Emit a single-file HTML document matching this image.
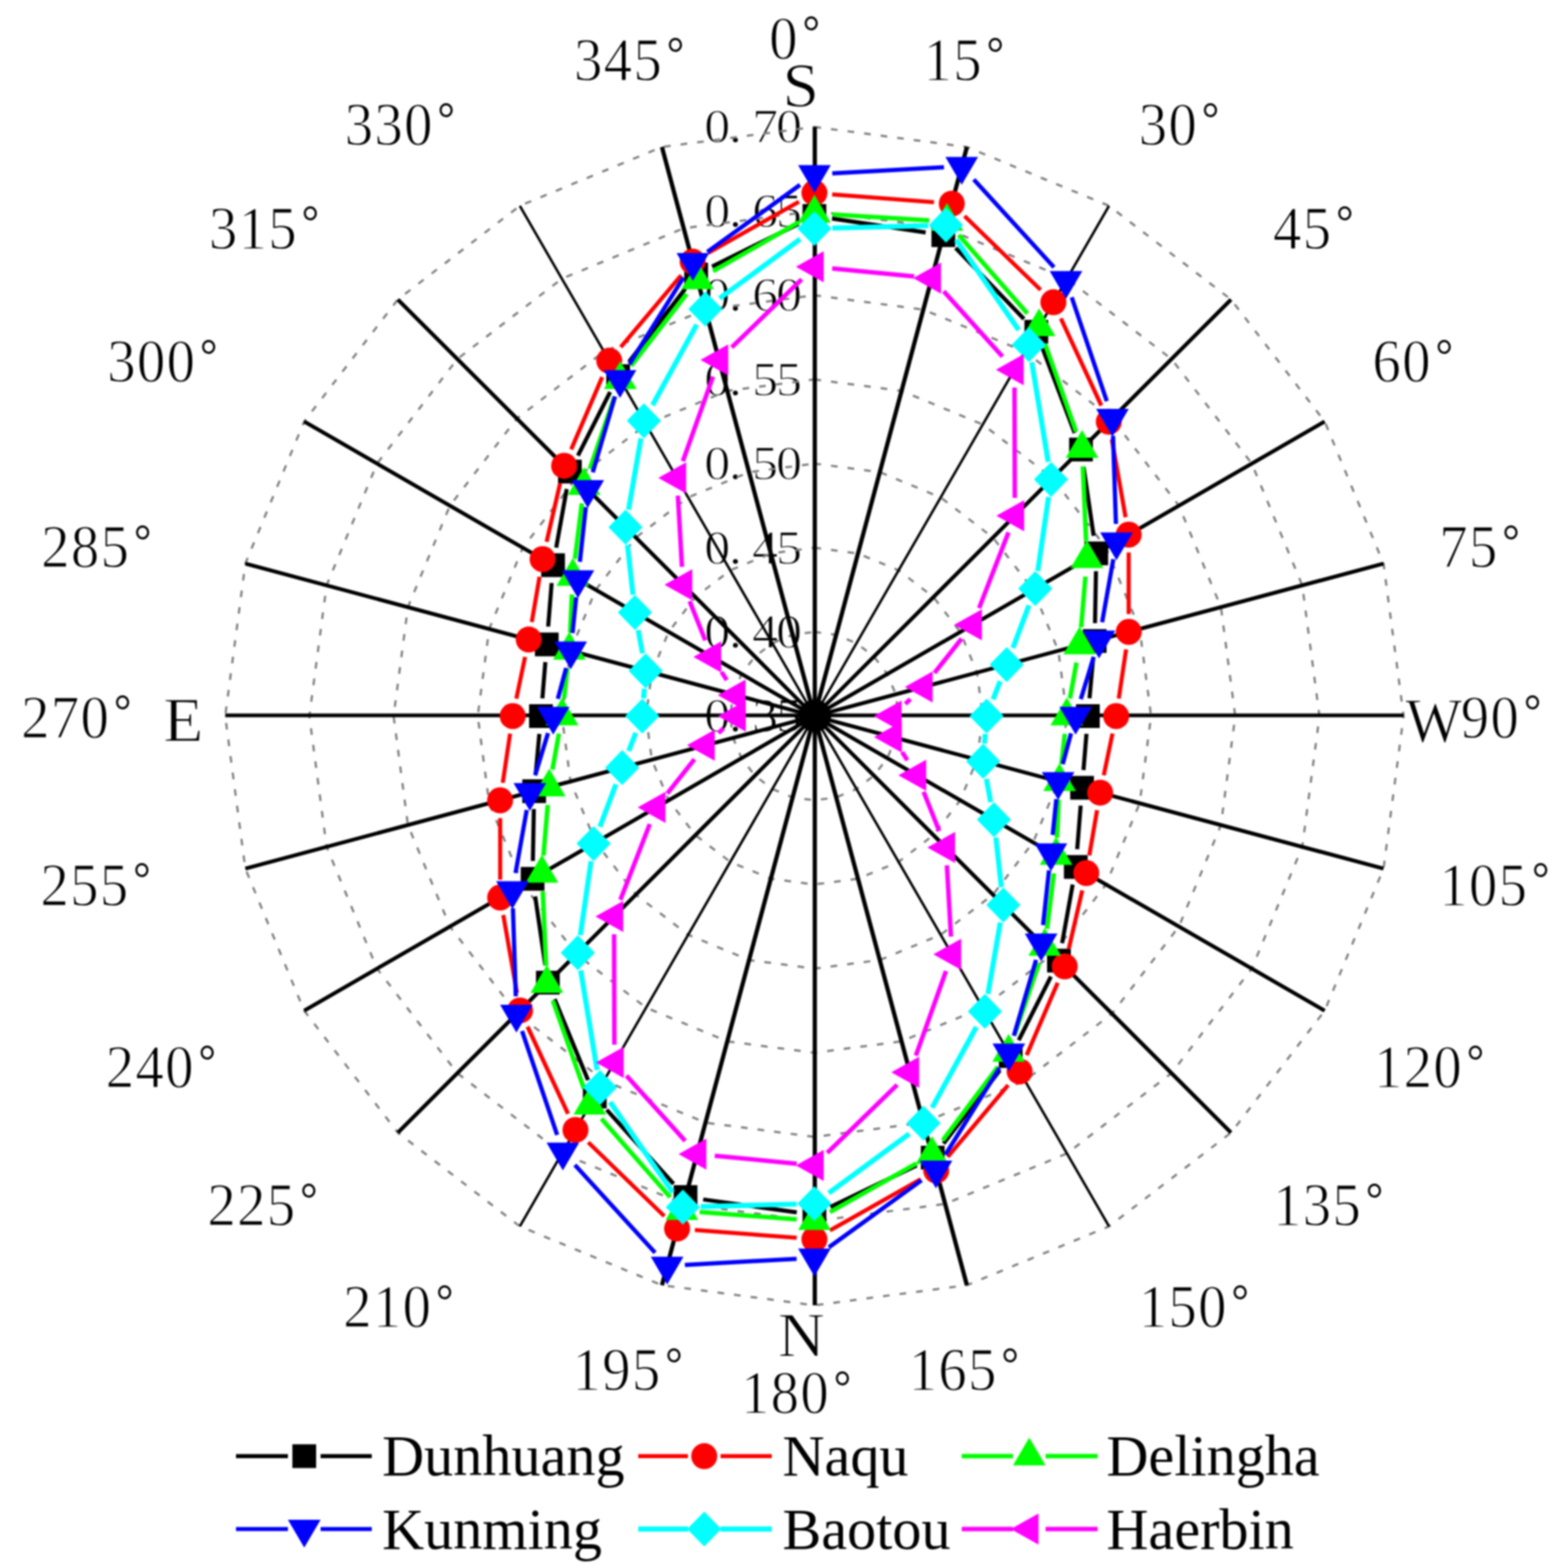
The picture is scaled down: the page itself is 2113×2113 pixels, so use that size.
<!DOCTYPE html>
<html lang="en"><head><meta charset="utf-8"><title>Polar chart</title>
<style>html,body{margin:0;padding:0;background:#fff}svg{display:block}</style></head>
<body>
<svg width="2113" height="2113" viewBox="0 0 2113 2113">
<defs><filter id="soft" color-interpolation-filters="sRGB" filterUnits="userSpaceOnUse" x="0" y="0" width="2113" height="2113"><feGaussianBlur stdDeviation="1.0"/></filter></defs>
<rect width="2113" height="2113" fill="#fff"/>
<g filter="url(#soft)">
<rect width="2113" height="2113" fill="#fff"/>
<g font-family="'Liberation Serif', 'Noto Serif CJK SC', serif" font-size="65" fill="#000" stroke="#fff" stroke-width="1.3">
<text transform="scale(1.08,1)" x="878.7 909.5 938.5 968.4" y="986.5">0.35</text>
<text transform="scale(1.08,1)" x="878.7 909.5 938.5 968.4" y="873.1">0.40</text>
<text transform="scale(1.08,1)" x="878.7 909.5 938.5 968.4" y="759.6">0.45</text>
<text transform="scale(1.08,1)" x="878.7 909.5 938.5 968.4" y="646.2">0.50</text>
<text transform="scale(1.08,1)" x="878.7 909.5 938.5 968.4" y="532.8">0.55</text>
<text transform="scale(1.08,1)" x="878.7 909.5 938.5 968.4" y="419.4">0.60</text>
<text transform="scale(1.08,1)" x="878.7 909.5 938.5 968.4" y="305.9">0.65</text>
<text transform="scale(1.08,1)" x="878.7 909.5 938.5 968.4" y="192.5">0.70</text>
</g>
<g fill="none" stroke="#808080" stroke-width="3.0" stroke-dasharray="9 13.5">
<polygon points="1097.5,851.6 1126.9,855.4 1154.2,866.8 1177.7,884.8 1195.7,908.3 1207.1,935.6 1210.9,965.0 1207.1,994.4 1195.7,1021.7 1177.7,1045.2 1154.2,1063.2 1126.9,1074.6 1097.5,1078.4 1068.1,1074.6 1040.8,1063.2 1017.3,1045.2 999.3,1021.7 987.9,994.4 984.1,965.0 987.9,935.6 999.3,908.3 1017.3,884.8 1040.8,866.8 1068.1,855.4"/>
<polygon points="1097.5,738.1 1156.2,745.9 1210.9,768.5 1257.9,804.6 1294.0,851.6 1316.6,906.3 1324.4,965.0 1316.6,1023.7 1294.0,1078.4 1257.9,1125.4 1210.9,1161.5 1156.2,1184.1 1097.5,1191.9 1038.8,1184.1 984.1,1161.5 937.1,1125.4 901.0,1078.4 878.4,1023.7 870.6,965.0 878.4,906.3 901.0,851.6 937.1,804.6 984.1,768.5 1038.8,745.9"/>
<polygon points="1097.5,624.7 1185.6,636.3 1267.6,670.3 1338.1,724.4 1392.2,794.9 1426.2,876.9 1437.8,965.0 1426.2,1053.1 1392.2,1135.1 1338.1,1205.6 1267.6,1259.7 1185.6,1293.7 1097.5,1305.3 1009.4,1293.7 927.4,1259.7 856.9,1205.6 802.8,1135.1 768.8,1053.1 757.2,965.0 768.8,876.9 802.8,794.9 856.9,724.4 927.4,670.3 1009.4,636.3"/>
<polygon points="1097.5,511.3 1214.9,526.7 1324.4,572.1 1418.3,644.2 1490.4,738.1 1535.8,847.6 1551.2,965.0 1535.8,1082.4 1490.4,1191.9 1418.3,1285.8 1324.4,1357.9 1214.9,1403.3 1097.5,1418.7 980.1,1403.3 870.6,1357.9 776.7,1285.8 704.6,1191.9 659.2,1082.4 643.8,965.0 659.2,847.6 704.6,738.1 776.7,644.2 870.6,572.1 980.1,526.7"/>
<polygon points="1097.5,397.9 1244.3,417.2 1381.1,473.8 1498.5,564.0 1588.7,681.4 1645.3,818.2 1664.6,965.0 1645.3,1111.8 1588.7,1248.6 1498.5,1366.0 1381.1,1456.2 1244.3,1512.8 1097.5,1532.1 950.7,1512.8 813.9,1456.2 696.5,1366.0 606.3,1248.6 549.7,1111.8 530.4,965.0 549.7,818.2 606.3,681.4 696.5,564.0 813.9,473.8 950.7,417.2"/>
<polygon points="1097.5,284.4 1273.6,307.6 1437.8,375.6 1578.7,483.8 1686.9,624.7 1754.9,788.9 1778.1,965.0 1754.9,1141.1 1686.9,1305.3 1578.7,1446.2 1437.8,1554.4 1273.6,1622.4 1097.5,1645.6 921.4,1622.4 757.2,1554.4 616.3,1446.2 508.1,1305.3 440.1,1141.1 416.9,965.0 440.1,788.9 508.1,624.7 616.3,483.8 757.2,375.6 921.4,307.6"/>
<polygon points="1097.5,171.0 1303.0,198.1 1494.5,277.4 1658.9,403.6 1785.1,568.0 1864.4,759.5 1891.5,965.0 1864.4,1170.5 1785.1,1362.0 1658.9,1526.4 1494.5,1652.6 1303.0,1731.9 1097.5,1759.0 892.0,1731.9 700.5,1652.6 536.1,1526.4 409.9,1362.0 330.6,1170.5 303.5,965.0 330.6,759.5 409.9,568.0 536.1,403.6 700.5,277.4 892.0,198.1"/>
</g>
<g stroke="#000" fill="none">
<line x1="1098.0" y1="965.0" x2="1098.0" y2="171.0" stroke-width="5.7"/>
<line x1="1097.5" y1="965.0" x2="1303.0" y2="198.1" stroke-width="5.7"/>
<line x1="1097.5" y1="965.0" x2="1494.5" y2="277.4" stroke-width="3.4"/>
<line x1="1097.5" y1="965.0" x2="1658.9" y2="403.6" stroke-width="5.2"/>
<line x1="1097.5" y1="965.0" x2="1785.1" y2="568.0" stroke-width="5.2"/>
<line x1="1097.5" y1="965.0" x2="1864.4" y2="759.5" stroke-width="5.2"/>
<line x1="1097.5" y1="964.0" x2="1891.5" y2="964.0" stroke-width="5.2"/>
<line x1="1097.5" y1="965.0" x2="1864.4" y2="1170.5" stroke-width="5.2"/>
<line x1="1097.5" y1="965.0" x2="1785.1" y2="1362.0" stroke-width="5.2"/>
<line x1="1097.5" y1="965.0" x2="1658.9" y2="1526.4" stroke-width="5.2"/>
<line x1="1097.5" y1="965.0" x2="1494.5" y2="1652.6" stroke-width="3.4"/>
<line x1="1097.5" y1="965.0" x2="1303.0" y2="1731.9" stroke-width="5.7"/>
<line x1="1098.0" y1="965.0" x2="1098.0" y2="1759.0" stroke-width="5.7"/>
<line x1="1097.5" y1="965.0" x2="892.0" y2="1731.9" stroke-width="5.7"/>
<line x1="1097.5" y1="965.0" x2="700.5" y2="1652.6" stroke-width="3.4"/>
<line x1="1097.5" y1="965.0" x2="536.1" y2="1526.4" stroke-width="5.2"/>
<line x1="1097.5" y1="965.0" x2="409.9" y2="1362.0" stroke-width="5.2"/>
<line x1="1097.5" y1="965.0" x2="330.6" y2="1170.5" stroke-width="5.2"/>
<line x1="1097.5" y1="964.0" x2="303.5" y2="964.0" stroke-width="5.2"/>
<line x1="1097.5" y1="965.0" x2="330.6" y2="759.5" stroke-width="5.2"/>
<line x1="1097.5" y1="965.0" x2="409.9" y2="568.0" stroke-width="5.2"/>
<line x1="1097.5" y1="965.0" x2="536.1" y2="403.6" stroke-width="5.2"/>
<line x1="1097.5" y1="965.0" x2="700.5" y2="277.4" stroke-width="3.4"/>
<line x1="1097.5" y1="965.0" x2="892.0" y2="198.1" stroke-width="5.7"/>
</g>
<circle cx="1098.0" cy="964.5" r="22" fill="#000"/>
<g stroke="#000000" stroke-width="5.5" fill="none">
<line x1="1121.2" y1="294.5" x2="1247.4" y2="313.3"/>
<line x1="1287.8" y1="334.2" x2="1379.9" y2="429.8"/>
<line x1="1405.0" y1="469.6" x2="1448.2" y2="583.4"/>
<line x1="1460.2" y1="629.5" x2="1473.8" y2="722.0"/>
<line x1="1476.9" y1="769.7" x2="1475.6" y2="839.8"/>
<line x1="1473.0" y1="887.7" x2="1468.2" y2="941.1"/>
<line x1="1464.1" y1="988.9" x2="1460.1" y2="1037.7"/>
<line x1="1456.3" y1="1085.6" x2="1451.6" y2="1144.4"/>
<line x1="1445.5" y1="1192.0" x2="1431.3" y2="1270.9"/>
<line x1="1416.2" y1="1315.9" x2="1372.8" y2="1401.7"/>
<line x1="1347.4" y1="1442.2" x2="1271.5" y2="1541.0"/>
<line x1="1235.3" y1="1570.4" x2="1119.1" y2="1626.6"/>
<line x1="1073.7" y1="1633.7" x2="947.6" y2="1616.4"/>
<line x1="907.7" y1="1595.3" x2="817.6" y2="1495.5"/>
<line x1="792.4" y1="1455.5" x2="747.4" y2="1346.4"/>
<line x1="734.8" y1="1300.5" x2="721.2" y2="1208.0"/>
<line x1="718.1" y1="1160.3" x2="719.4" y2="1090.2"/>
<line x1="722.0" y1="1042.3" x2="726.8" y2="988.9"/>
<line x1="730.9" y1="941.1" x2="734.9" y2="892.3"/>
<line x1="738.7" y1="844.4" x2="743.4" y2="785.6"/>
<line x1="749.5" y1="738.0" x2="763.7" y2="659.1"/>
<line x1="778.8" y1="614.1" x2="822.2" y2="528.3"/>
<line x1="847.6" y1="487.8" x2="923.5" y2="389.0"/>
<line x1="959.6" y1="359.3" x2="1076.0" y2="301.7"/>
</g>
<g>
<rect x="1081.5" y="275.0" width="32" height="32" fill="#000000"/>
<rect x="1255.2" y="300.9" width="32" height="32" fill="#000000"/>
<rect x="1380.5" y="431.1" width="32" height="32" fill="#000000"/>
<rect x="1440.7" y="589.8" width="32" height="32" fill="#000000"/>
<rect x="1461.3" y="729.7" width="32" height="32" fill="#000000"/>
<rect x="1459.2" y="847.8" width="32" height="32" fill="#000000"/>
<rect x="1450.0" y="949.0" width="32" height="32" fill="#000000"/>
<rect x="1442.2" y="1045.6" width="32" height="32" fill="#000000"/>
<rect x="1433.7" y="1152.3" width="32" height="32" fill="#000000"/>
<rect x="1411.0" y="1278.5" width="32" height="32" fill="#000000"/>
<rect x="1346.0" y="1407.1" width="32" height="32" fill="#000000"/>
<rect x="1240.9" y="1544.0" width="32" height="32" fill="#000000"/>
<rect x="1081.5" y="1621.0" width="32" height="32" fill="#000000"/>
<rect x="907.8" y="1597.1" width="32" height="32" fill="#000000"/>
<rect x="785.5" y="1461.7" width="32" height="32" fill="#000000"/>
<rect x="722.3" y="1308.2" width="32" height="32" fill="#000000"/>
<rect x="701.7" y="1168.3" width="32" height="32" fill="#000000"/>
<rect x="703.8" y="1050.2" width="32" height="32" fill="#000000"/>
<rect x="713.0" y="949.0" width="32" height="32" fill="#000000"/>
<rect x="720.8" y="852.4" width="32" height="32" fill="#000000"/>
<rect x="729.3" y="745.6" width="32" height="32" fill="#000000"/>
<rect x="752.0" y="619.5" width="32" height="32" fill="#000000"/>
<rect x="817.0" y="490.9" width="32" height="32" fill="#000000"/>
<rect x="922.1" y="354.0" width="32" height="32" fill="#000000"/>
</g>
<g stroke="#ff0000" stroke-width="5.5" fill="none">
<line x1="1121.4" y1="261.9" x2="1258.6" y2="272.5"/>
<line x1="1299.8" y1="291.1" x2="1402.3" y2="390.6"/>
<line x1="1429.6" y1="429.1" x2="1484.1" y2="546.5"/>
<line x1="1498.3" y1="591.9" x2="1516.8" y2="696.9"/>
<line x1="1521.0" y1="744.5" x2="1521.0" y2="827.5"/>
<line x1="1517.5" y1="875.2" x2="1507.6" y2="941.3"/>
<line x1="1499.2" y1="988.5" x2="1487.4" y2="1044.7"/>
<line x1="1478.4" y1="1091.8" x2="1467.9" y2="1152.8"/>
<line x1="1458.4" y1="1199.9" x2="1440.2" y2="1278.9"/>
<line x1="1425.3" y1="1324.3" x2="1383.5" y2="1421.9"/>
<line x1="1358.5" y1="1462.3" x2="1277.1" y2="1559.0"/>
<line x1="1240.7" y1="1589.2" x2="1118.4" y2="1658.2"/>
<line x1="1073.6" y1="1668.1" x2="936.4" y2="1657.5"/>
<line x1="895.2" y1="1638.9" x2="792.7" y2="1539.4"/>
<line x1="765.4" y1="1500.9" x2="710.9" y2="1383.5"/>
<line x1="696.7" y1="1338.1" x2="678.2" y2="1233.1"/>
<line x1="674.0" y1="1185.5" x2="674.0" y2="1102.5"/>
<line x1="677.5" y1="1054.8" x2="687.4" y2="988.7"/>
<line x1="695.8" y1="941.5" x2="707.6" y2="885.3"/>
<line x1="716.6" y1="838.2" x2="727.1" y2="777.2"/>
<line x1="736.6" y1="730.1" x2="754.8" y2="651.1"/>
<line x1="769.7" y1="605.7" x2="811.5" y2="508.1"/>
<line x1="836.5" y1="467.7" x2="917.9" y2="371.0"/>
<line x1="954.3" y1="340.8" x2="1076.6" y2="271.8"/>
</g>
<g>
<circle cx="1097.5" cy="260.0" r="17.5" fill="#ff0000"/>
<circle cx="1282.6" cy="274.4" r="17.5" fill="#ff0000"/>
<circle cx="1419.5" cy="407.3" r="17.5" fill="#ff0000"/>
<circle cx="1494.2" cy="568.3" r="17.5" fill="#ff0000"/>
<circle cx="1521.0" cy="720.5" r="17.5" fill="#ff0000"/>
<circle cx="1521.1" cy="851.5" r="17.5" fill="#ff0000"/>
<circle cx="1504.1" cy="965.0" r="17.5" fill="#ff0000"/>
<circle cx="1482.5" cy="1068.2" r="17.5" fill="#ff0000"/>
<circle cx="1463.8" cy="1176.5" r="17.5" fill="#ff0000"/>
<circle cx="1434.8" cy="1302.3" r="17.5" fill="#ff0000"/>
<circle cx="1374.0" cy="1443.9" r="17.5" fill="#ff0000"/>
<circle cx="1261.6" cy="1577.4" r="17.5" fill="#ff0000"/>
<circle cx="1097.5" cy="1670.0" r="17.5" fill="#ff0000"/>
<circle cx="912.4" cy="1655.6" r="17.5" fill="#ff0000"/>
<circle cx="775.5" cy="1522.7" r="17.5" fill="#ff0000"/>
<circle cx="700.8" cy="1361.7" r="17.5" fill="#ff0000"/>
<circle cx="674.0" cy="1209.5" r="17.5" fill="#ff0000"/>
<circle cx="673.9" cy="1078.5" r="17.5" fill="#ff0000"/>
<circle cx="690.9" cy="965.0" r="17.5" fill="#ff0000"/>
<circle cx="712.5" cy="861.8" r="17.5" fill="#ff0000"/>
<circle cx="731.2" cy="753.5" r="17.5" fill="#ff0000"/>
<circle cx="760.2" cy="627.7" r="17.5" fill="#ff0000"/>
<circle cx="821.0" cy="486.1" r="17.5" fill="#ff0000"/>
<circle cx="933.4" cy="352.6" r="17.5" fill="#ff0000"/>
</g>
<g stroke="#00ff00" stroke-width="6.0" fill="none">
<line x1="1121.5" y1="289.0" x2="1252.1" y2="297.0"/>
<line x1="1291.9" y1="316.6" x2="1384.5" y2="422.5"/>
<line x1="1408.2" y1="463.2" x2="1450.1" y2="581.7"/>
<line x1="1459.2" y1="628.4" x2="1463.6" y2="729.0"/>
<line x1="1462.7" y1="776.9" x2="1456.9" y2="845.3"/>
<line x1="1450.6" y1="892.9" x2="1441.8" y2="941.4"/>
<line x1="1434.9" y1="988.9" x2="1430.4" y2="1029.7"/>
<line x1="1426.7" y1="1077.5" x2="1424.3" y2="1129.0"/>
<line x1="1420.2" y1="1176.8" x2="1410.9" y2="1251.6"/>
<line x1="1400.2" y1="1298.1" x2="1366.9" y2="1395.6"/>
<line x1="1344.8" y1="1437.5" x2="1270.3" y2="1536.9"/>
<line x1="1235.0" y1="1567.9" x2="1118.4" y2="1633.3"/>
<line x1="1073.6" y1="1643.2" x2="942.8" y2="1633.3"/>
<line x1="903.1" y1="1613.4" x2="810.5" y2="1507.5"/>
<line x1="786.8" y1="1466.8" x2="744.9" y2="1348.3"/>
<line x1="735.8" y1="1301.6" x2="731.4" y2="1201.0"/>
<line x1="732.3" y1="1153.1" x2="738.1" y2="1084.7"/>
<line x1="744.4" y1="1037.1" x2="753.2" y2="988.6"/>
<line x1="760.1" y1="941.1" x2="764.6" y2="900.3"/>
<line x1="768.3" y1="852.5" x2="770.7" y2="801.0"/>
<line x1="774.8" y1="753.2" x2="784.1" y2="678.4"/>
<line x1="794.8" y1="631.9" x2="828.1" y2="534.4"/>
<line x1="850.5" y1="492.8" x2="925.3" y2="396.2"/>
<line x1="960.9" y1="365.4" x2="1076.6" y2="299.4"/>
</g>
<g>
<polygon points="1097.5,262.5 1119.5,300.0 1075.5,300.0" fill="#00ff00"/>
<polygon points="1276.1,273.5 1298.1,311.0 1254.1,311.0" fill="#00ff00"/>
<polygon points="1400.2,415.6 1422.2,453.1 1378.2,453.1" fill="#00ff00"/>
<polygon points="1458.1,579.4 1480.1,616.9 1436.1,616.9" fill="#00ff00"/>
<polygon points="1464.7,728.0 1486.7,765.5 1442.7,765.5" fill="#00ff00"/>
<polygon points="1454.9,844.2 1476.9,881.7 1432.9,881.7" fill="#00ff00"/>
<polygon points="1437.5,940.0 1459.5,977.5 1415.5,977.5" fill="#00ff00"/>
<polygon points="1427.8,1028.5 1449.8,1066.0 1405.8,1066.0" fill="#00ff00"/>
<polygon points="1423.1,1128.0 1445.1,1165.5 1401.1,1165.5" fill="#00ff00"/>
<polygon points="1407.9,1250.4 1429.9,1287.9 1385.9,1287.9" fill="#00ff00"/>
<polygon points="1359.2,1393.3 1381.2,1430.8 1337.2,1430.8" fill="#00ff00"/>
<polygon points="1255.9,1531.1 1277.9,1568.6 1233.9,1568.6" fill="#00ff00"/>
<polygon points="1097.5,1620.0 1119.5,1657.5 1075.5,1657.5" fill="#00ff00"/>
<polygon points="918.9,1606.5 940.9,1644.0 896.9,1644.0" fill="#00ff00"/>
<polygon points="794.8,1464.4 816.8,1501.9 772.8,1501.9" fill="#00ff00"/>
<polygon points="736.9,1300.6 758.9,1338.1 714.9,1338.1" fill="#00ff00"/>
<polygon points="730.3,1152.0 752.3,1189.5 708.3,1189.5" fill="#00ff00"/>
<polygon points="740.1,1035.8 762.1,1073.3 718.1,1073.3" fill="#00ff00"/>
<polygon points="757.5,940.0 779.5,977.5 735.5,977.5" fill="#00ff00"/>
<polygon points="767.2,851.5 789.2,889.0 745.2,889.0" fill="#00ff00"/>
<polygon points="771.9,752.0 793.9,789.5 749.9,789.5" fill="#00ff00"/>
<polygon points="787.1,629.6 809.1,667.1 765.1,667.1" fill="#00ff00"/>
<polygon points="835.8,486.7 857.8,524.2 813.8,524.2" fill="#00ff00"/>
<polygon points="940.0,352.2 962.0,389.7 918.0,389.7" fill="#00ff00"/>
</g>
<g stroke="#0000ff" stroke-width="5.7" fill="none">
<line x1="1121.5" y1="233.7" x2="1272.1" y2="225.4"/>
<line x1="1312.2" y1="241.8" x2="1420.3" y2="360.1"/>
<line x1="1444.2" y1="400.6" x2="1491.5" y2="540.6"/>
<line x1="1499.9" y1="587.4" x2="1503.8" y2="706.0"/>
<line x1="1500.3" y1="753.6" x2="1485.2" y2="838.6"/>
<line x1="1473.9" y1="885.2" x2="1456.5" y2="942.1"/>
<line x1="1443.3" y1="988.2" x2="1432.1" y2="1029.8"/>
<line x1="1423.5" y1="1076.9" x2="1418.6" y2="1125.1"/>
<line x1="1413.6" y1="1172.9" x2="1405.6" y2="1246.6"/>
<line x1="1396.2" y1="1293.5" x2="1366.2" y2="1395.8"/>
<line x1="1346.8" y1="1439.2" x2="1274.0" y2="1556.1"/>
<line x1="1241.9" y1="1590.5" x2="1116.9" y2="1680.9"/>
<line x1="1073.5" y1="1696.3" x2="922.9" y2="1704.6"/>
<line x1="882.8" y1="1688.2" x2="774.7" y2="1569.9"/>
<line x1="750.8" y1="1529.4" x2="703.5" y2="1389.4"/>
<line x1="695.1" y1="1342.6" x2="691.2" y2="1224.0"/>
<line x1="694.7" y1="1176.4" x2="709.8" y2="1091.4"/>
<line x1="721.1" y1="1044.8" x2="738.5" y2="987.9"/>
<line x1="751.7" y1="941.8" x2="762.9" y2="900.2"/>
<line x1="771.5" y1="853.1" x2="776.4" y2="804.9"/>
<line x1="781.4" y1="757.1" x2="789.4" y2="683.4"/>
<line x1="798.8" y1="636.5" x2="828.8" y2="534.2"/>
<line x1="848.2" y1="490.8" x2="921.0" y2="373.9"/>
<line x1="953.1" y1="339.5" x2="1078.1" y2="249.1"/>
</g>
<g>
<polygon points="1097.5,260.0 1119.5,222.5 1075.5,222.5" fill="#0000ff"/>
<polygon points="1296.0,249.1 1318.0,211.6 1274.0,211.6" fill="#0000ff"/>
<polygon points="1436.5,402.8 1458.5,365.3 1414.5,365.3" fill="#0000ff"/>
<polygon points="1499.1,588.4 1521.1,550.9 1477.1,550.9" fill="#0000ff"/>
<polygon points="1504.5,755.0 1526.5,717.5 1482.5,717.5" fill="#0000ff"/>
<polygon points="1481.0,887.2 1503.0,849.7 1459.0,849.7" fill="#0000ff"/>
<polygon points="1449.5,990.0 1471.5,952.5 1427.5,952.5" fill="#0000ff"/>
<polygon points="1425.9,1078.0 1447.9,1040.5 1403.9,1040.5" fill="#0000ff"/>
<polygon points="1416.2,1174.0 1438.2,1136.5 1394.2,1136.5" fill="#0000ff"/>
<polygon points="1403.0,1295.5 1425.0,1258.0 1381.0,1258.0" fill="#0000ff"/>
<polygon points="1359.5,1443.8 1381.5,1406.3 1337.5,1406.3" fill="#0000ff"/>
<polygon points="1261.3,1601.4 1283.3,1563.9 1239.3,1563.9" fill="#0000ff"/>
<polygon points="1097.5,1720.0 1119.5,1682.5 1075.5,1682.5" fill="#0000ff"/>
<polygon points="899.0,1730.9 921.0,1693.4 877.0,1693.4" fill="#0000ff"/>
<polygon points="758.5,1577.2 780.5,1539.7 736.5,1539.7" fill="#0000ff"/>
<polygon points="695.9,1391.6 717.9,1354.1 673.9,1354.1" fill="#0000ff"/>
<polygon points="690.5,1225.0 712.5,1187.5 668.5,1187.5" fill="#0000ff"/>
<polygon points="714.0,1092.8 736.0,1055.3 692.0,1055.3" fill="#0000ff"/>
<polygon points="745.5,990.0 767.5,952.5 723.5,952.5" fill="#0000ff"/>
<polygon points="769.1,902.0 791.1,864.5 747.1,864.5" fill="#0000ff"/>
<polygon points="778.8,806.0 800.8,768.5 756.8,768.5" fill="#0000ff"/>
<polygon points="792.0,684.5 814.0,647.0 770.0,647.0" fill="#0000ff"/>
<polygon points="835.5,536.2 857.5,498.7 813.5,498.7" fill="#0000ff"/>
<polygon points="933.7,378.6 955.7,341.1 911.7,341.1" fill="#0000ff"/>
</g>
<g stroke="#00ffff" stroke-width="6.8" fill="none">
<line x1="1121.5" y1="307.4" x2="1250.8" y2="304.0"/>
<line x1="1288.5" y1="323.1" x2="1372.8" y2="444.7"/>
<line x1="1390.4" y1="488.1" x2="1412.5" y2="622.4"/>
<line x1="1413.0" y1="669.8" x2="1398.5" y2="769.4"/>
<line x1="1386.6" y1="815.7" x2="1365.0" y2="873.1"/>
<line x1="1347.8" y1="917.9" x2="1338.2" y2="942.6"/>
<line x1="1327.7" y1="988.9" x2="1326.7" y2="1002.0"/>
<line x1="1329.2" y1="1049.5" x2="1335.0" y2="1081.0"/>
<line x1="1342.0" y1="1128.5" x2="1349.4" y2="1195.7"/>
<line x1="1348.0" y1="1243.2" x2="1331.3" y2="1339.3"/>
<line x1="1315.7" y1="1384.0" x2="1256.1" y2="1492.6"/>
<line x1="1225.2" y1="1527.9" x2="1116.8" y2="1607.8"/>
<line x1="1073.5" y1="1622.6" x2="944.2" y2="1626.0"/>
<line x1="906.5" y1="1606.9" x2="822.2" y2="1485.3"/>
<line x1="804.6" y1="1441.9" x2="782.5" y2="1307.6"/>
<line x1="782.0" y1="1260.2" x2="796.5" y2="1160.6"/>
<line x1="808.4" y1="1114.3" x2="830.0" y2="1056.9"/>
<line x1="847.2" y1="1012.1" x2="856.8" y2="987.4"/>
<line x1="867.3" y1="941.1" x2="868.3" y2="928.0"/>
<line x1="865.8" y1="880.5" x2="860.0" y2="849.0"/>
<line x1="853.0" y1="801.5" x2="845.6" y2="734.3"/>
<line x1="847.0" y1="686.8" x2="863.7" y2="590.7"/>
<line x1="879.3" y1="546.0" x2="938.9" y2="437.4"/>
<line x1="969.8" y1="402.1" x2="1078.2" y2="322.2"/>
</g>
<g>
<polygon points="1097.5,284.4 1120.5,308.0 1097.5,331.6 1074.5,308.0" fill="#00ffff"/>
<polygon points="1274.8,279.7 1297.8,303.3 1274.8,326.9 1251.8,303.3" fill="#00ffff"/>
<polygon points="1386.5,440.8 1409.5,464.4 1386.5,488.0 1363.5,464.4" fill="#00ffff"/>
<polygon points="1416.4,622.5 1439.4,646.1 1416.4,669.7 1393.4,646.1" fill="#00ffff"/>
<polygon points="1395.1,769.6 1418.1,793.2 1395.1,816.8 1372.1,793.2" fill="#00ffff"/>
<polygon points="1356.6,872.0 1379.6,895.6 1356.6,919.2 1333.6,895.6" fill="#00ffff"/>
<polygon points="1329.5,941.4 1352.5,965.0 1329.5,988.6 1306.5,965.0" fill="#00ffff"/>
<polygon points="1324.9,1002.3 1347.9,1025.9 1324.9,1049.5 1301.9,1025.9" fill="#00ffff"/>
<polygon points="1339.4,1081.0 1362.4,1104.6 1339.4,1128.2 1316.4,1104.6" fill="#00ffff"/>
<polygon points="1352.1,1196.0 1375.1,1219.6 1352.1,1243.2 1329.1,1219.6" fill="#00ffff"/>
<polygon points="1327.2,1339.3 1350.2,1362.9 1327.2,1386.5 1304.2,1362.9" fill="#00ffff"/>
<polygon points="1244.5,1490.0 1267.5,1513.6 1244.5,1537.2 1221.5,1513.6" fill="#00ffff"/>
<polygon points="1097.5,1598.4 1120.5,1622.0 1097.5,1645.6 1074.5,1622.0" fill="#00ffff"/>
<polygon points="920.2,1603.1 943.2,1626.7 920.2,1650.3 897.2,1626.7" fill="#00ffff"/>
<polygon points="808.5,1442.0 831.5,1465.6 808.5,1489.2 785.5,1465.6" fill="#00ffff"/>
<polygon points="778.6,1260.3 801.6,1283.9 778.6,1307.5 755.6,1283.9" fill="#00ffff"/>
<polygon points="799.9,1113.2 822.9,1136.8 799.9,1160.4 776.9,1136.8" fill="#00ffff"/>
<polygon points="838.4,1010.8 861.4,1034.4 838.4,1058.0 815.4,1034.4" fill="#00ffff"/>
<polygon points="865.5,941.4 888.5,965.0 865.5,988.6 842.5,965.0" fill="#00ffff"/>
<polygon points="870.1,880.5 893.1,904.1 870.1,927.7 847.1,904.1" fill="#00ffff"/>
<polygon points="855.6,801.7 878.6,825.3 855.6,848.9 832.6,825.3" fill="#00ffff"/>
<polygon points="842.9,686.8 865.9,710.4 842.9,734.0 819.9,710.4" fill="#00ffff"/>
<polygon points="867.7,543.5 890.7,567.1 867.7,590.7 844.7,567.1" fill="#00ffff"/>
<polygon points="950.5,392.8 973.5,416.4 950.5,440.0 927.5,416.4" fill="#00ffff"/>
</g>
<g stroke="#ff00ff" stroke-width="6.0" fill="none">
<line x1="1121.4" y1="361.8" x2="1231.8" y2="372.5"/>
<line x1="1271.7" y1="392.6" x2="1350.9" y2="480.4"/>
<line x1="1367.1" y1="522.2" x2="1367.5" y2="670.9"/>
<line x1="1359.0" y1="717.3" x2="1319.4" y2="819.5"/>
<line x1="1295.8" y1="860.7" x2="1259.2" y2="906.9"/>
<line x1="1226.8" y1="942.1" x2="1220.0" y2="948.6"/>
<line x1="1215.7" y1="1013.5" x2="1222.7" y2="1024.5"/>
<line x1="1244.6" y1="1067.0" x2="1265.7" y2="1119.9"/>
<line x1="1276.0" y1="1166.1" x2="1281.5" y2="1262.1"/>
<line x1="1274.8" y1="1308.6" x2="1234.2" y2="1422.5"/>
<line x1="1209.0" y1="1461.8" x2="1114.7" y2="1553.7"/>
<line x1="1073.6" y1="1568.2" x2="963.2" y2="1557.5"/>
<line x1="923.3" y1="1537.4" x2="844.1" y2="1449.6"/>
<line x1="827.9" y1="1407.8" x2="827.5" y2="1259.1"/>
<line x1="836.0" y1="1212.7" x2="875.6" y2="1110.5"/>
<line x1="899.2" y1="1069.3" x2="935.8" y2="1023.1"/>
<line x1="968.2" y1="987.9" x2="975.0" y2="981.4"/>
<line x1="979.3" y1="916.5" x2="972.3" y2="905.5"/>
<line x1="950.4" y1="863.0" x2="929.3" y2="810.1"/>
<line x1="919.0" y1="763.9" x2="913.5" y2="667.9"/>
<line x1="920.2" y1="621.4" x2="960.8" y2="507.5"/>
<line x1="986.0" y1="468.2" x2="1080.3" y2="376.3"/>
</g>
<g>
<polygon points="1072.5,359.5 1110.0,338.5 1110.0,380.5" fill="#ff00ff"/>
<polygon points="1230.6,374.8 1268.1,353.8 1268.1,395.8" fill="#ff00ff"/>
<polygon points="1342.0,498.2 1379.5,477.2 1379.5,519.2" fill="#ff00ff"/>
<polygon points="1342.6,694.9 1380.1,673.9 1380.1,715.9" fill="#ff00ff"/>
<polygon points="1285.7,841.9 1323.2,820.9 1323.2,862.9" fill="#ff00ff"/>
<polygon points="1219.3,925.7 1256.8,904.7 1256.8,946.7" fill="#ff00ff"/>
<polygon points="1177.5,965.0 1215.0,944.0 1215.0,986.0" fill="#ff00ff"/>
<polygon points="1177.8,993.2 1215.3,972.2 1215.3,1014.2" fill="#ff00ff"/>
<polygon points="1210.6,1044.8 1248.1,1023.8 1248.1,1065.8" fill="#ff00ff"/>
<polygon points="1249.6,1142.1 1287.1,1121.1 1287.1,1163.1" fill="#ff00ff"/>
<polygon points="1257.8,1286.0 1295.3,1265.0 1295.3,1307.0" fill="#ff00ff"/>
<polygon points="1201.1,1445.1 1238.6,1424.1 1238.6,1466.1" fill="#ff00ff"/>
<polygon points="1072.5,1570.5 1110.0,1549.5 1110.0,1591.5" fill="#ff00ff"/>
<polygon points="914.4,1555.2 951.9,1534.2 951.9,1576.2" fill="#ff00ff"/>
<polygon points="803.0,1431.8 840.5,1410.8 840.5,1452.8" fill="#ff00ff"/>
<polygon points="802.4,1235.1 839.9,1214.1 839.9,1256.1" fill="#ff00ff"/>
<polygon points="859.3,1088.1 896.8,1067.1 896.8,1109.1" fill="#ff00ff"/>
<polygon points="925.7,1004.3 963.2,983.3 963.2,1025.3" fill="#ff00ff"/>
<polygon points="967.5,965.0 1005.0,944.0 1005.0,986.0" fill="#ff00ff"/>
<polygon points="967.2,936.8 1004.7,915.8 1004.7,957.8" fill="#ff00ff"/>
<polygon points="934.4,885.2 971.9,864.2 971.9,906.2" fill="#ff00ff"/>
<polygon points="895.4,787.9 932.9,766.9 932.9,808.9" fill="#ff00ff"/>
<polygon points="887.1,644.0 924.6,623.0 924.6,665.0" fill="#ff00ff"/>
<polygon points="943.9,484.9 981.4,463.9 981.4,505.9" fill="#ff00ff"/>
</g>
<g font-family="'Liberation Serif', 'Noto Serif CJK SC', serif" font-size="81" fill="#000" stroke="#fff" stroke-width="1.3">
<text transform="scale(0.945,1.03)" x="1096.8" y="76.9">0<tspan font-size="62" stroke="none" x="1144.4" y="62.4">°</tspan></text>
<text transform="scale(0.945,1.03)" x="1316.9 1359.3" y="104.4">15<tspan font-size="62" stroke="none" x="1406.9" y="89.9">°</tspan></text>
<text transform="scale(0.945,1.03)" x="1623.8 1666.1" y="189.8">30<tspan font-size="62" stroke="none" x="1713.8" y="175.3">°</tspan></text>
<text transform="scale(0.945,1.03)" x="1815.3 1857.7" y="324.8">45<tspan font-size="62" stroke="none" x="1905.3" y="310.3">°</tspan></text>
<text transform="scale(0.945,1.03)" x="1957.1 1999.5" y="499.5">60<tspan font-size="62" stroke="none" x="2047.1" y="485.0">°</tspan></text>
<text transform="scale(0.945,1.03)" x="2052.4 2094.7" y="742.2">75<tspan font-size="62" stroke="none" x="2142.3" y="727.8">°</tspan></text>
<text transform="scale(0.945,1.03)" x="2083.1 2125.4" y="964.6">90<tspan font-size="62" stroke="none" x="2173.0" y="950.1">°</tspan></text>
<text transform="scale(0.945,1.03)" x="2052.4 2094.7 2137.0" y="1184.0">105<tspan font-size="62" stroke="none" x="2184.7" y="1169.5">°</tspan></text>
<text transform="scale(0.945,1.03)" x="1959.3 2001.6 2043.9" y="1422.8">120<tspan font-size="62" stroke="none" x="2091.5" y="1408.3">°</tspan></text>
<text transform="scale(0.945,1.03)" x="1815.3 1857.7 1900.0" y="1603.4">135<tspan font-size="62" stroke="none" x="1947.6" y="1588.9">°</tspan></text>
<text transform="scale(0.945,1.03)" x="1623.8 1666.1 1708.5" y="1736.4">150<tspan font-size="62" stroke="none" x="1756.1" y="1721.9">°</tspan></text>
<text transform="scale(0.945,1.03)" x="1295.8 1338.1 1380.4" y="1818.9">165<tspan font-size="62" stroke="none" x="1428.0" y="1804.5">°</tspan></text>
<text transform="scale(0.945,1.03)" x="1056.6 1098.9 1141.3" y="1849.0">180<tspan font-size="62" stroke="none" x="1188.9" y="1834.6">°</tspan></text>
<text transform="scale(0.945,1.03)" x="816.4 858.7 901.1" y="1818.9">195<tspan font-size="62" stroke="none" x="948.7" y="1804.5">°</tspan></text>
<text transform="scale(0.945,1.03)" x="489.4 531.7 574.1" y="1736.4">210<tspan font-size="62" stroke="none" x="621.7" y="1721.9">°</tspan></text>
<text transform="scale(0.945,1.03)" x="295.8 338.1 380.4" y="1603.4">225<tspan font-size="62" stroke="none" x="428.0" y="1588.9">°</tspan></text>
<text transform="scale(0.945,1.03)" x="150.8 193.1 235.4" y="1422.8">240<tspan font-size="62" stroke="none" x="283.1" y="1408.3">°</tspan></text>
<text transform="scale(0.945,1.03)" x="57.7 100.0 142.3" y="1184.0">255<tspan font-size="62" stroke="none" x="189.9" y="1169.5">°</tspan></text>
<text transform="scale(0.945,1.03)" x="30.2 72.5 114.8" y="964.6">270<tspan font-size="62" stroke="none" x="162.4" y="950.1">°</tspan></text>
<text transform="scale(0.945,1.03)" x="58.7 101.1 143.4" y="742.2">285<tspan font-size="62" stroke="none" x="191.0" y="727.8">°</tspan></text>
<text transform="scale(0.945,1.03)" x="152.9 195.2 237.6" y="499.5">300<tspan font-size="62" stroke="none" x="285.2" y="485.0">°</tspan></text>
<text transform="scale(0.945,1.03)" x="297.9 340.2 382.5" y="324.8">315<tspan font-size="62" stroke="none" x="430.2" y="310.3">°</tspan></text>
<text transform="scale(0.945,1.03)" x="491.5 533.9 576.2" y="189.8">330<tspan font-size="62" stroke="none" x="623.8" y="175.3">°</tspan></text>
<text transform="scale(0.945,1.03)" x="818.5 860.8 903.2" y="104.4">345<tspan font-size="62" stroke="none" x="950.8" y="89.9">°</tspan></text>
</g>
<g font-family="'Liberation Serif', serif" font-size="85" fill="#000" stroke="#fff" stroke-width="1.2" text-anchor="middle">
<text transform="scale(1.04,1)" x="1037.5" y="144">S</text>
<text transform="scale(1.03,1)" x="1048.5" y="1828">N</text>
<text transform="scale(1.04,1)" x="237.5" y="999.5">E</text>
<text transform="scale(0.95,1)" x="2033.7" y="1000">W</text>
</g>
<g font-family="'Liberation Serif', serif" font-size="78.4" fill="#000">
<line x1="318" y1="1962.3" x2="388" y2="1962.3" stroke="#000000" stroke-width="5.5"/>
<line x1="432" y1="1962.3" x2="501" y2="1962.3" stroke="#000000" stroke-width="5.5"/>
<rect x="394.0" y="1946.3" width="32" height="32" fill="#000000"/>
<text x="515" y="1988.3">Dunhuang</text>
<line x1="860" y1="1962.3" x2="927" y2="1962.3" stroke="#ff0000" stroke-width="5.5"/>
<line x1="971" y1="1962.3" x2="1040" y2="1962.3" stroke="#ff0000" stroke-width="5.5"/>
<circle cx="949.0" cy="1962.3" r="17.5" fill="#ff0000"/>
<text x="1054.5" y="1988.3">Naqu</text>
<line x1="1296" y1="1962.3" x2="1365" y2="1962.3" stroke="#00ff00" stroke-width="6.0"/>
<line x1="1409" y1="1962.3" x2="1479" y2="1962.3" stroke="#00ff00" stroke-width="6.0"/>
<polygon points="1387.0,1937.3 1409.0,1974.8 1365.0,1974.8" fill="#00ff00"/>
<text x="1491" y="1988.3">Delingha</text>
<line x1="318" y1="2060.5" x2="388" y2="2060.5" stroke="#0000ff" stroke-width="5.7"/>
<line x1="432" y1="2060.5" x2="501" y2="2060.5" stroke="#0000ff" stroke-width="5.7"/>
<polygon points="410.0,2085.5 432.0,2048.0 388.0,2048.0" fill="#0000ff"/>
<text x="515" y="2086.5">Kunming</text>
<line x1="860" y1="2060.5" x2="927" y2="2060.5" stroke="#00ffff" stroke-width="6.8"/>
<line x1="971" y1="2060.5" x2="1040" y2="2060.5" stroke="#00ffff" stroke-width="6.8"/>
<polygon points="949.0,2036.9 972.0,2060.5 949.0,2084.1 926.0,2060.5" fill="#00ffff"/>
<text x="1054.5" y="2086.5">Baotou</text>
<line x1="1296" y1="2060.5" x2="1365" y2="2060.5" stroke="#ff00ff" stroke-width="6.0"/>
<line x1="1409" y1="2060.5" x2="1479" y2="2060.5" stroke="#ff00ff" stroke-width="6.0"/>
<polygon points="1362.0,2060.5 1399.5,2039.5 1399.5,2081.5" fill="#ff00ff"/>
<text x="1491" y="2086.5">Haerbin</text>
</g>
</g>
</svg>
</body></html>
